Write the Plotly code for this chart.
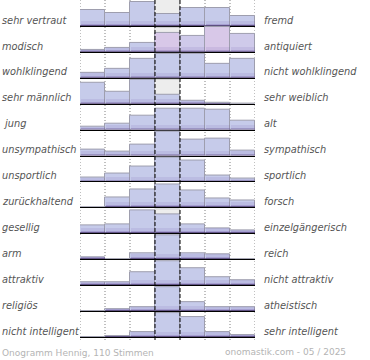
import plotly.graph_objects as go
from plotly.subplots import make_subplots

# ---------------- data ----------------
left_labels = ["sehr vertraut", "modisch", "wohlklingend", "sehr männlich", "\u00a0jung",
               "unsympathisch", "unsportlich", "zurückhaltend", "gesellig", "arm",
               "attraktiv", "religiös", "nicht intelligent"]
right_labels = ["fremd", "antiquiert", "nicht wohlklingend", "sehr weiblich", "alt",
                "sympathisch", "sportlich", "forsch", "einzelgängerisch", "reich",
                "nicht attraktiv", "atheistisch", "sehr intelligent"]
bins = [1, 2, 3, 4, 5, 6, 7]

r_vertraut = [16, 13, 24, 12, 18, 18, 10]
r_modisch = [2, 4, 9, 19, 16, 25, 18]
r_wohlklingend = [5, 9, 19, 24, 24, 14, 19]
r_maennlich = [21, 12, 24, 9, 3, 0.5, 0]
r_jung = [3, 6, 14, 21, 21, 20, 9]
r_unsympathisch = [6, 3.5, 11, 24, 16, 17, 4.5]
r_unsportlich = [4, 7.5, 15, 23.5, 21, 6, 2.5]
r_zurueckhaltend = [0, 10, 18, 23, 17, 8.5, 6.5]
r_gesellig = [7.5, 9, 23, 19, 9, 4.5, 3]
r_arm = [1.5, 0, 5.5, 23.5, 5.5, 5, 0]
r_attraktiv = [2.5, 2.5, 13, 23.5, 16.5, 8, 5]
r_religioes = [0, 1.5, 4, 23.5, 8.5, 4, 4]
r_intelligent = [0, 0.5, 4.5, 23.5, 19.5, 5, 1.5]

ratings = [r_vertraut, r_modisch, r_wohlklingend, r_maennlich, r_jung, r_unsympathisch,
           r_unsportlich, r_zurueckhaltend, r_gesellig, r_arm, r_attraktiv, r_religioes,
           r_intelligent]
# grey background value in the middle bin
neutral = [30, 23.5, 0, 24, 0, 0, 0, 0, 24, 0, 0, 0, 0]

footer_left = "Onogramm Hennig, 110 Stimmen"
footer_right = "onomastik.com - 05 / 2025"

# ---------------- layout ----------------
W, H = 370, 360
ML, MR, MT, MB = 80, 115, 0, 23
PW = W - ML - MR
PH = H - MT - MB
N = len(ratings)
ROW_MAX = 26

BASE = "#c6cbea"
PINK = "#d8c8e8"
PINK2 = "#cfcaea"
row_colors = [[BASE] * 7 for _ in range(N)]
row_colors[1] = [BASE, BASE, BASE, PINK, PINK2, PINK, PINK2]

fig = make_subplots(rows=N, cols=1, shared_xaxes=True, vertical_spacing=0)

for i, (vals, g) in enumerate(zip(ratings, neutral)):
    r = i + 1
    fig.add_trace(go.Bar(x=[4], y=[g], width=1,
                         marker=dict(color="#ededed", line=dict(color="#cccccc", width=1)),
                         hoverinfo="skip", showlegend=False), row=r, col=1)
    fig.add_trace(go.Bar(x=bins, y=vals, width=1,
                         marker=dict(color=row_colors[i], line=dict(color="#9e9eae", width=1)),
                         showlegend=False), row=r, col=1)
    fig.add_trace(go.Bar(x=bins, y=[min(v, 5) for v in vals], width=0.96,
                         marker=dict(color="rgba(110,80,170,0.12)", line=dict(width=0)),
                         hoverinfo="skip", showlegend=False), row=r, col=1)
    fig.add_trace(go.Bar(x=bins, y=[min(v, 2.2) for v in vals], width=0.96,
                         marker=dict(color="rgba(90,60,150,0.22)", line=dict(width=0)),
                         hoverinfo="skip", showlegend=False), row=r, col=1)
    fig.add_trace(go.Bar(x=bins, y=[min(v, 1.0) for v in vals], width=1,
                         marker=dict(color="rgba(40,20,80,0.45)", line=dict(width=0)),
                         hoverinfo="skip", showlegend=False), row=r, col=1)

fig.update_xaxes(range=[0.5, 7.5], showticklabels=False, ticks="", showgrid=False,
                 zeroline=False, showline=True, linecolor="black", linewidth=1.2)
fig.update_yaxes(range=[0, ROW_MAX], showticklabels=False, ticks="", showgrid=False,
                 zeroline=False, showline=False)

shapes = []
for xv in [0.5, 1.5, 2.5, 5.5, 6.5, 7.5]:
    shapes.append(dict(type="line", xref="x", yref="paper", x0=xv, x1=xv,
                       y0=-3 / PH, y1=1, layer="below",
                       line=dict(color="#808080", width=1, dash="1px,2px")))
for xv in [3.5, 4.5]:
    shapes.append(dict(type="line", xref="x", yref="paper", x0=xv, x1=xv,
                       y0=-3 / PH, y1=1, layer="above",
                       line=dict(color="black", width=1, dash="4px,2px")))

label_font = dict(family="DejaVu Sans", size=9.8, color="#555555", style="italic")
annotations = []
for i in range(N):
    yref = "y" if i == 0 else f"y{i + 1}"
    annotations.append(dict(text=left_labels[i], xref="paper", yref=yref,
                            x=(0 - ML) / PW, y=5.8, xanchor="left", yanchor="middle",
                            showarrow=False, font=label_font))
    annotations.append(dict(text=right_labels[i], xref="paper", yref=yref,
                            x=(262 - ML) / PW, y=5.8, xanchor="left", yanchor="middle",
                            showarrow=False, font=label_font))

foot_font = dict(family="DejaVu Sans", size=9, color="#b4b4b4")
annotations.append(dict(text=footer_left, xref="paper", yref="paper",
                        x=(0 - ML) / PW, y=-(353 - PH) / PH, xanchor="left",
                        yanchor="middle", showarrow=False, font=foot_font))
annotations.append(dict(text=footer_right, xref="paper", yref="paper",
                        x=(348 - ML) / PW, y=-(352 - PH) / PH, xanchor="right",
                        yanchor="middle", showarrow=False, font=foot_font))

fig.update_layout(width=W, height=H, margin=dict(l=ML, r=MR, t=MT, b=MB),
                  barmode="overlay", bargap=0, plot_bgcolor="white",
                  paper_bgcolor="white", shapes=shapes, annotations=annotations,
                  showlegend=False)

fig.write_html("out.html", config={"displayModeBar": False},
               post_script="document.body.style.margin='0px';")
